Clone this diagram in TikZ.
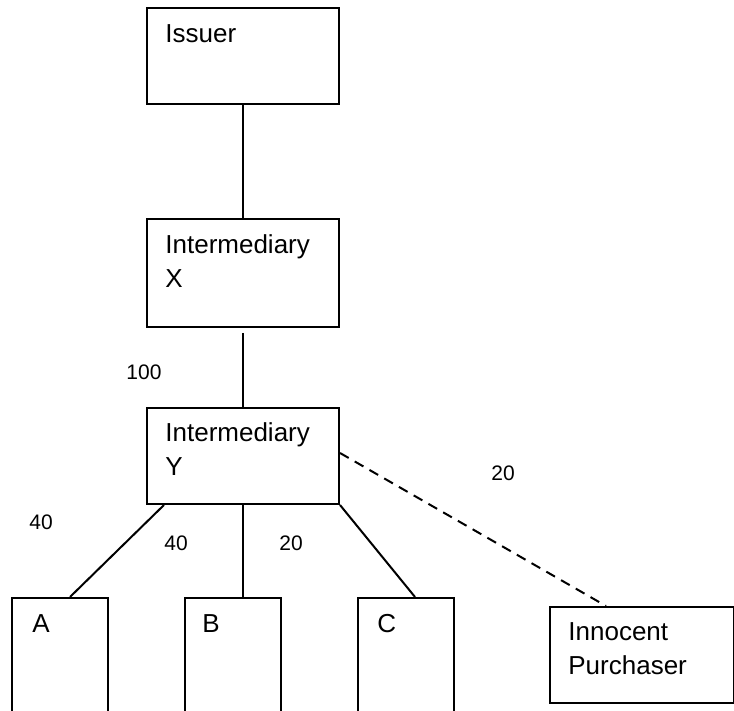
\documentclass[tikz,border=0pt]{standalone}
\usepackage{fontspec}
\setmainfont{Liberation Sans}
\usepackage{tikz}
\usetikzlibrary{positioning,calc}
\tikzset{
    box/.style={draw, line width=1pt, anchor=north west, inner sep=0pt, minimum width=96pt, minimum height=48pt},
    leaf/.style={box, minimum width=48pt, minimum height=70pt},
    txt/.style={anchor=base west, inner sep=0pt, align=left, font=\fontsize{13}{17}\selectfont},
    num/.style={anchor=base west, inner sep=0pt, font=\fontsize{10.5}{12}\selectfont},
    link/.style={line width=1pt}
}
\begin{document}
\begin{tikzpicture}[x=0.5pt, y=0.5pt]
    \useasboundingbox (0,0) rectangle (734,711);
    \clip (0,0) rectangle (734,711);

    % Chain of holders
    \node[box] (issuer) at (146,704) {};
    \node[box, minimum height=54pt] (interx) at (146,493) {};
    \node[box] (intery) at (146,304) {};
    \node[txt] (issuertxt) at ($(issuer.north west)+(19,-36)$) {Issuer};
    \node[txt] (interxtxt) at ($(interx.north west)+(19,-70)$) {Intermediary\\X}; % base = last line
    \node[txt] (interytxt) at ($(intery.north west)+(19,-69)$) {Intermediary\\Y};

    % Account holders (cut off at the bottom)
    \node[leaf] (a) at (11,114) {};
    \node[leaf] (b) at (184,114) {};
    \node[leaf] (c) at (357,114) {};
    \node[txt] (atxt) at ($(a.north west)+(21,-36)$) {A};
    \node[txt] (btxt) at ($(b.north west)+(18,-36)$) {B};
    \node[txt] (ctxt) at ($(c.north west)+(20,-36)$) {C};

    \node[box, minimum width=92pt] (innocent) at (549,105) {};
    \node[txt] (innocenttxt) at ($(innocent.north west)+(19,-69)$) {Innocent\\Purchaser};

    % Links
    \draw[link] (issuer) -- (interx);
    \draw[link, shorten <=2.5pt] (interx) -- (intery);
    \draw[link] ($(intery.south west)+(18,0)$) -- ($(a.north)+(10,0)$);
    \draw[link] (intery.south) -- (intery.south |- b.north);
    \draw[link] (intery.south east) -- ($(c.north)+(9,0)$);
    \draw[link, dash pattern=on 5pt off 3.5pt] ($(intery.east)+(0,3)$) -- ($(innocent.north west)+(57,0)$); % innocent purchase

    % Amounts
    \node[num] (n100) at (126,331) {100};
    \node[num] (n40a) at (29,181) {40};
    \node[num] (n40b) at (164,160) {40};
    \node[num] (n20a) at (279,160) {20};
    \node[num] (n20b) at (491,230) {20};
\end{tikzpicture}
\end{document}
